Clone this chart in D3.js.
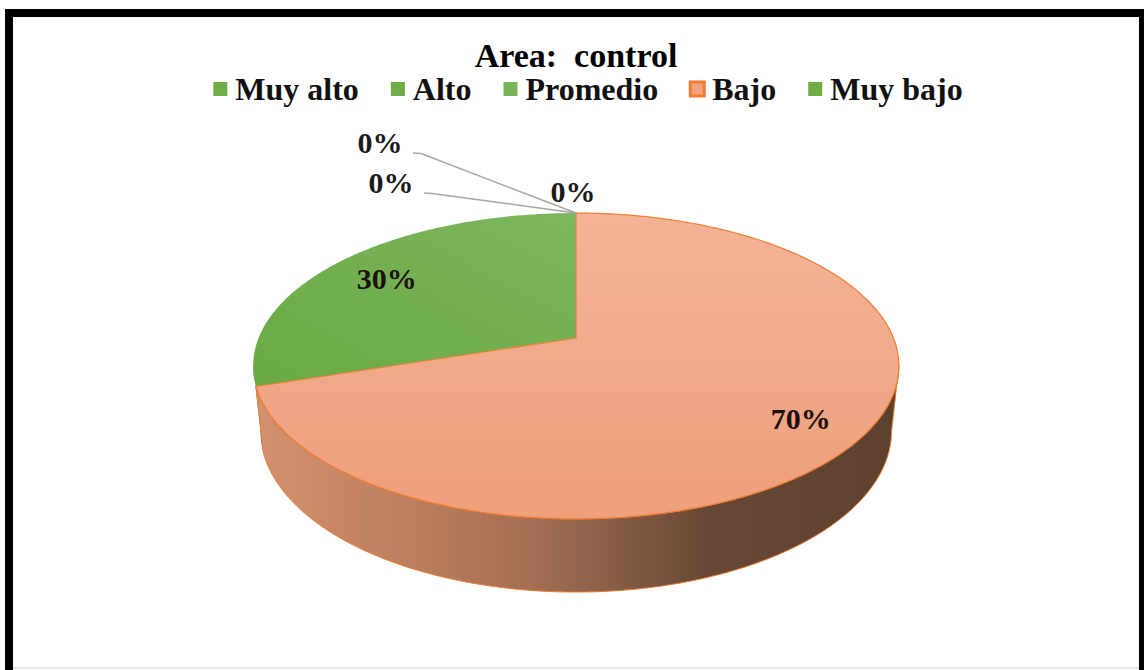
<!DOCTYPE html>
<html>
<head>
<meta charset="utf-8">
<script src="https://cdn.jsdelivr.net/npm/d3@7"></script>
<style>
  body { margin: 0; background: #fff; }
  svg { display: block; font-family: "Liberation Serif", "Times New Roman", serif; }
</style>
</head>
<body>
<svg id="canvas" width="1144" height="670"></svg>
<script>
var title = "Area:  control";
var categories = ["Muy alto", "Alto", "Promedio", "Bajo", "Muy bajo"];
var values = [0, 0, 0, 70, 30];
var colors = ["#70ad47", "#70ad47", "#78b457", "#ed7d31", "#70ad47"];

var svg = d3.select('#canvas');
var width = 1144, height = 670;

// frame (bottom edge falls outside the picture)
svg.append('rect').attr('x', 5).attr('y', 9).attr('width', 8).attr('height', height).attr('fill', '#000');
svg.append('rect').attr('x', 5).attr('y', 9).attr('width', width).attr('height', 8).attr('fill', '#000');
svg.append('rect').attr('x', 1139).attr('y', 9).attr('width', 5).attr('height', height).attr('fill', '#000');
svg.append('line').attr('x1', 13).attr('x2', 1139).attr('y1', 668).attr('y2', 668)
    .attr('stroke', '#e6e6e6').attr('stroke-width', 2);

// gradients
var defs = svg.append('defs');
var sideGrad = defs.append('linearGradient').attr('id', 'sideBajo')
    .attr('gradientUnits', 'userSpaceOnUse')
    .attr('x1', 255).attr('x2', 902).attr('y1', 0).attr('y2', 0);
[[0, '#d3916e'], [0.25, '#bb7d5e'], [0.42, '#a56f54'], [0.57, '#845b45'], [0.7, '#684835'], [1, '#5c402f']]
    .forEach(function(s) { sideGrad.append('stop').attr('offset', s[0]).attr('stop-color', s[1]); });

var topGrad = defs.append('linearGradient').attr('id', 'topBajo')
    .attr('x1', 0).attr('x2', 0).attr('y1', 0).attr('y2', 1);
topGrad.append('stop').attr('offset', 0).attr('stop-color', '#f3b397');
topGrad.append('stop').attr('offset', 1).attr('stop-color', '#ef9f7b');

var greenGrad = defs.append('linearGradient').attr('id', 'topGreen')
    .attr('x1', 1).attr('x2', 0).attr('y1', 0).attr('y2', 1);
greenGrad.append('stop').attr('offset', 0).attr('stop-color', '#7cb65e');
greenGrad.append('stop').attr('offset', 1).attr('stop-color', '#6aa942');

// perspective projection of the 3d pie
var cx = 576, cy = 338, f = 1535;
var sinT = 0.4657, cosT = Math.sqrt(1 - sinT * sinT);
var dist = 4.836, depth = 0.233;

function project(theta, r, h) {
    var X = r * Math.sin(theta), Y = r * Math.cos(theta);
    var z = dist + Y * cosT - h * sinT;
    return [cx + f * X / z, cy - f * (Y * sinT + h * cosT) / z];
}

function arcPoints(a, b, h) {
    var n = Math.max(2, Math.ceil((b - a) / 0.01));
    return d3.range(n + 1).map(function(i) {
        return project(a + (b - a) * i / n, 1, h);
    });
}

var thetaR = Math.acos(-cosT / dist);
var thetaL = 2 * Math.PI - thetaR;

var pie = d3.pie().sort(null).startAngle(0).endAngle(2 * Math.PI);
var arcs = pie(values);
var line = d3.line();

function sideFill(i) {
    return categories[i] === 'Bajo' ? 'url(#sideBajo)' : '#5e646b';
}
function topFill(i) {
    return categories[i] === 'Bajo' ? 'url(#topBajo)' : 'url(#topGreen)';
}

var order = arcs.slice().reverse();

// sides (front part only)
svg.append('g').selectAll('path')
    .data(order.filter(function(d) {
        return Math.min(d.endAngle, thetaL) > Math.max(d.startAngle, thetaR);
    }))
    .enter()
    .append('path')
    .attr('d', function(d) {
        var a = Math.max(d.startAngle, thetaR), b = Math.min(d.endAngle, thetaL);
        return line(arcPoints(a, b, 0).concat(arcPoints(a, b, -depth).reverse())) + 'Z';
    })
    .attr('fill', function(d) { return sideFill(d.index); })
    .attr('stroke', function(d) { return categories[d.index] === 'Bajo' ? '#ed7d31' : 'none'; })
    .attr('stroke-width', 1);

// top faces
svg.append('g').selectAll('path')
    .data(order.filter(function(d) { return d.value > 0; }))
    .enter()
    .append('path')
    .attr('d', function(d) {
        return line([project(0, 0, 0)].concat(arcPoints(d.startAngle, d.endAngle, 0))) + 'Z';
    })
    .attr('fill', function(d) { return topFill(d.index); })
    .attr('stroke', function(d) { return categories[d.index] === 'Bajo' ? '#ed7d31' : 'none'; })
    .attr('stroke-width', 1.2);

// value labels
var pct = function(v) { return d3.format('.0%')(v / d3.sum(values)); };

svg.append('g').selectAll('text')
    .data(arcs.filter(function(d) { return d.value > 0; }))
    .enter()
    .append('text')
    .attr('x', function(d) { return project((d.startAngle + d.endAngle) / 2, 0.8, 0)[0]; })
    .attr('y', function(d) { return project((d.startAngle + d.endAngle) / 2, 0.8, 0)[1] + 15; })
    .attr('text-anchor', 'middle')
    .attr('font-size', 30)
    .attr('font-weight', 'bold')
    .attr('fill', '#1c1010')
    .text(function(d) { return pct(d.value); });

// zero-value labels, stacked beside the slice point
var anchor = project(0, 1, 0);
var zeroSpots = [[-196, -60, true], [-185, -20, true], [-3, -11, false]];
var zeros = arcs.filter(function(d) { return d.value === 0; });

var zg = svg.append('g');
zg.selectAll('polyline')
    .data(zeros.filter(function(d, i) { return zeroSpots[i][2]; }))
    .enter()
    .append('polyline')
    .attr('points', function(d, i) {
        var p = zeroSpots[i];
        var x0 = anchor[0] + p[0] + 33, y0 = anchor[1] + p[1];
        return [[x0, y0], [x0 + 8, y0 + 0.5], anchor].join(' ');
    })
    .attr('fill', 'none')
    .attr('stroke', '#a6a6a6')
    .attr('stroke-width', 1.5);

zg.selectAll('text')
    .data(zeros)
    .enter()
    .append('text')
    .attr('x', function(d, i) { return anchor[0] + zeroSpots[i][0]; })
    .attr('y', function(d, i) { return anchor[1] + zeroSpots[i][1]; })
    .attr('text-anchor', 'middle')
    .attr('font-size', 30)
    .attr('font-weight', 'bold')
    .attr('fill', '#1a1a1a')
    .text(function(d) { return pct(d.value); });

// title
svg.append('text')
    .attr('x', 576).attr('y', 67)
    .attr('text-anchor', 'middle')
    .attr('font-size', 34)
    .attr('font-weight', 'bold')
    .style('white-space', 'pre')
    .text(title);

// legend
var legend = svg.append('g');
var items = legend.selectAll('g')
    .data(categories)
    .enter()
    .append('g');

items.append('rect')
    .attr('width', 14).attr('height', 14)
    .attr('y', 82)
    .attr('fill', function(d, i) { return d === 'Bajo' ? '#f3a27c' : colors[i]; })
    .attr('stroke', function(d, i) { return d === 'Bajo' ? colors[i] : 'none'; })
    .attr('stroke-width', 3);

items.append('text')
    .attr('x', 22).attr('y', 100)
    .attr('font-size', 32)
    .attr('font-weight', 'bold')
    .attr('fill', '#111')
    .text(function(d) { return d; });

var xpos = 0, offsets = [];
items.each(function() {
    offsets.push(xpos);
    xpos += 22 + d3.select(this).select('text').node().getComputedTextLength() + 32;
});
var total = xpos - 32;
var startX = 588 - total / 2;
items.attr('transform', function(d, i) { return 'translate(' + (startX + offsets[i]) + ',0)'; });
</script>
</body>
</html>
